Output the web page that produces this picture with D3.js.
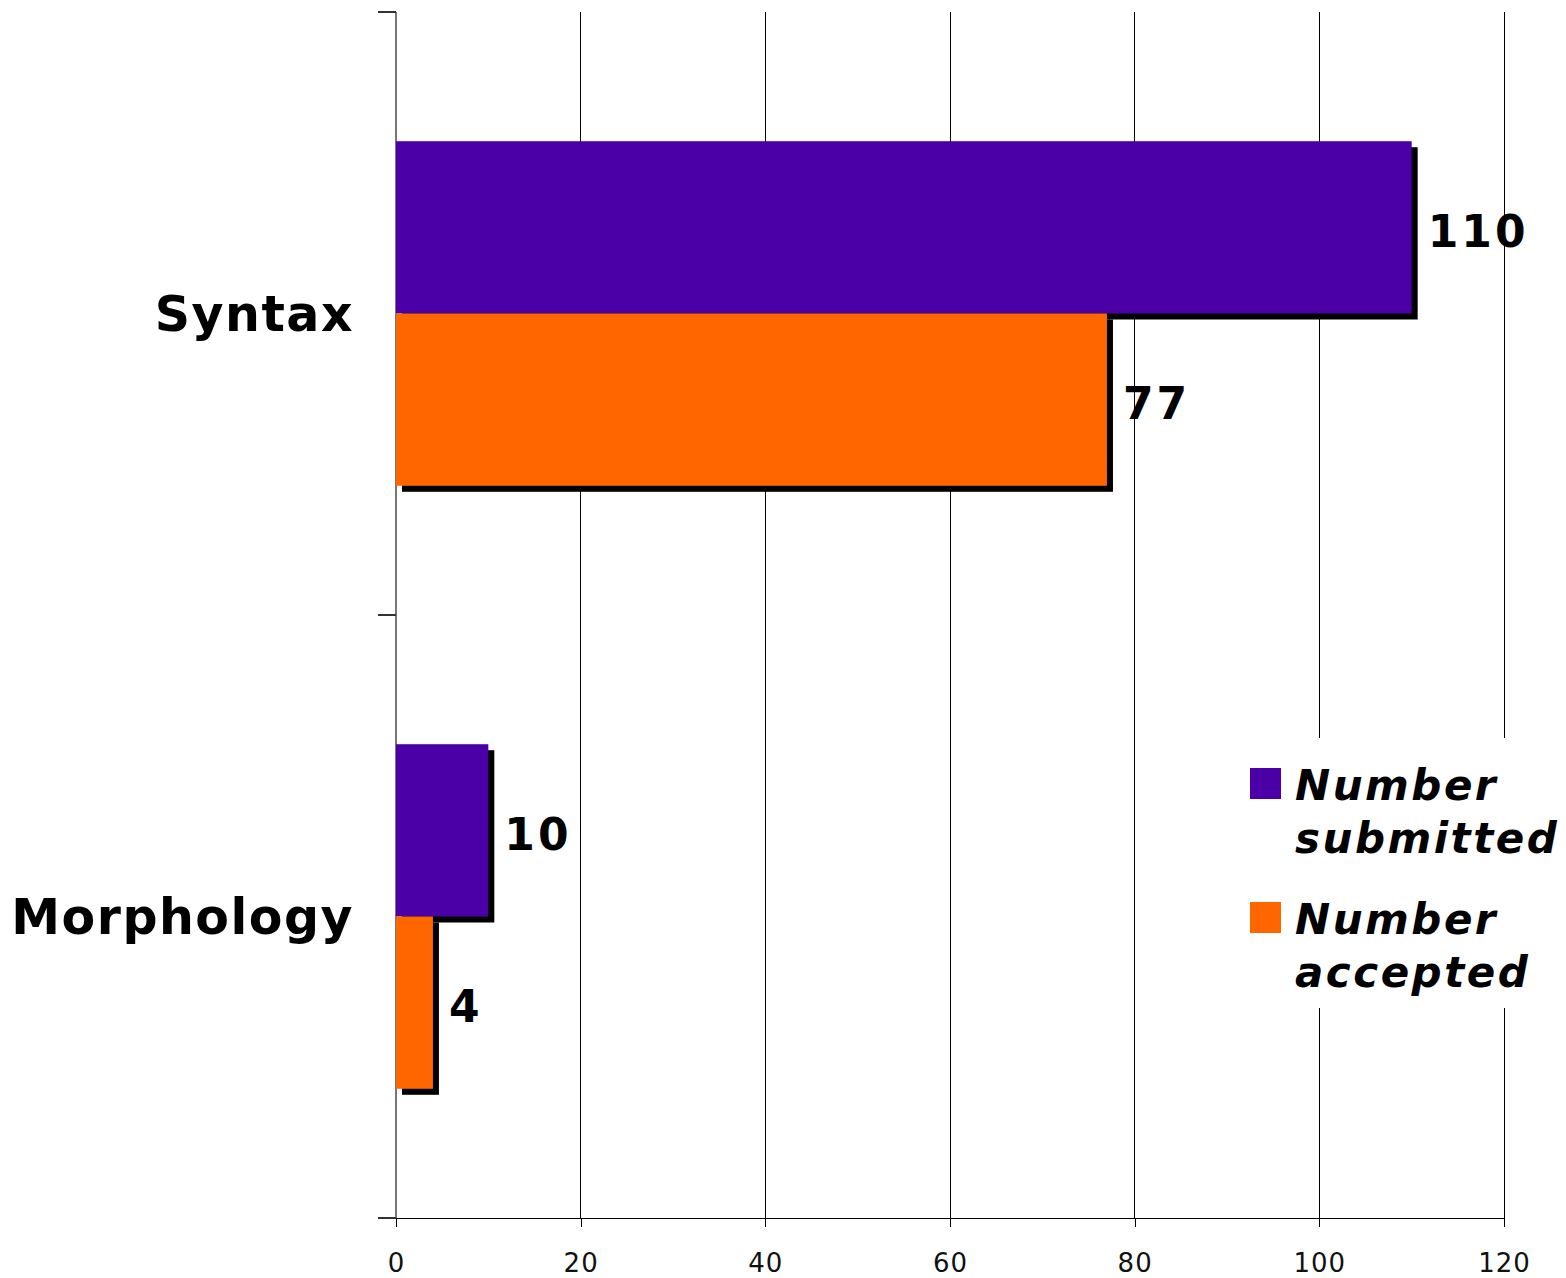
<!DOCTYPE html>
<html>
<head>
<meta charset="utf-8">
<script src="https://cdn.jsdelivr.net/npm/d3@7"></script>
<style>
    html, body { margin: 0; padding: 0; background: #fff; }
    svg { display: block; font-family: 'DejaVu Sans', Verdana, sans-serif; }
</style>
</head>
<body>
<div id="chart"></div>
<script>
'use strict';

// chart data
var categories = ['Syntax', 'Morphology'];
var seriesNames = ['Number submitted', 'Number accepted'];
var submitted = [110, 10];
var accepted = [77, 4];
var xTicks = [0, 20, 40, 60, 80, 100, 120];
var seriesColors = ['#4a00a6', '#ff6600'];

var width = 1566,
    height = 1278,
    plotLeft = 396,
    plotRight = 1504,
    plotTop = 12,
    plotBottom = 1218,
    shadow = 6;

var svg = d3.select('#chart')
    .append('svg')
    .attr('width', width)
    .attr('height', height);

var x = d3.scaleLinear().domain([0, 120]).range([plotLeft, plotRight]);
var y0 = d3.scaleBand().domain(categories).range([plotTop, plotBottom]).padding(0);
var y1 = d3.scaleBand().domain(seriesNames).range([0, y0.bandwidth()])
    .paddingInner(0).paddingOuter(0.75);

// vertical gridlines
svg.append('g')
    .selectAll('line')
    .data(xTicks)
    .enter().append('line')
    .attr('x1', function(d) { return x(d); })
    .attr('x2', function(d) { return x(d); })
    .attr('y1', plotTop)
    .attr('y2', plotBottom)
    .attr('stroke', '#000')
    .attr('stroke-width', 1)
    .attr('shape-rendering', 'crispEdges');

// x axis
var xAxis = svg.append('g')
    .attr('transform', 'translate(0,' + plotBottom + ')')
    .call(d3.axisBottom(x).tickValues(xTicks).tickSize(9).tickPadding(27).tickSizeOuter(0));
xAxis.select('.domain').remove();
xAxis.selectAll('line').attr('stroke', '#000').attr('shape-rendering', 'crispEdges');
xAxis.selectAll('text')
    .attr('fill', '#111')
    .style('font-size', '26px')
    .style('letter-spacing', '1px')
    .style('font-family', "'DejaVu Sans', sans-serif");
svg.append('line')
    .attr('x1', plotLeft - 18).attr('x2', plotRight)
    .attr('y1', plotBottom).attr('y2', plotBottom)
    .attr('stroke', '#000')
    .attr('shape-rendering', 'crispEdges');

// y axis line and category ticks
svg.append('line')
    .attr('x1', plotLeft).attr('x2', plotLeft)
    .attr('y1', plotTop).attr('y2', plotBottom)
    .attr('stroke', '#777')
    .attr('stroke-width', 2)
    .attr('shape-rendering', 'crispEdges');
var bounds = categories.map(function(c) { return y0(c); }).concat([plotBottom]);
svg.append('g')
    .selectAll('line')
    .data(bounds)
    .enter().append('line')
    .attr('x1', plotLeft - 18).attr('x2', plotLeft)
    .attr('y1', function(d) { return d; })
    .attr('y2', function(d) { return d; })
    .attr('stroke', '#333')
    .attr('stroke-width', 2)
    .attr('shape-rendering', 'crispEdges');

// category labels
svg.append('g')
    .selectAll('text')
    .data(categories)
    .enter().append('text')
    .attr('x', 354)
    .attr('y', function(d) { return y0(d) + y0.bandwidth() / 2 + 1; })
    .attr('text-anchor', 'end')
    .attr('dominant-baseline', 'central')
    .style('font-size', '49px')
    .style('letter-spacing', '1.5px')
    .style('font-weight', 'bold')
    .text(function(d) { return d; });

// bars with drop shadow
var rows = [];
categories.forEach(function(c, i) {
    rows.push({cat: c, series: seriesNames[0], value: submitted[i], color: seriesColors[0]});
    rows.push({cat: c, series: seriesNames[1], value: accepted[i], color: seriesColors[1]});
});

var bars = svg.append('g')
    .selectAll('g')
    .data(rows)
    .enter().append('g')
    .attr('transform', function(d) { return 'translate(0,' + (y0(d.cat) + y1(d.series)) + ')'; });

bars.append('rect')
    .attr('x', x(0) + shadow)
    .attr('y', shadow)
    .attr('width', function(d) { return x(d.value) - x(0); })
    .attr('height', y1.bandwidth())
    .attr('fill', '#000');
bars.append('rect')
    .attr('x', x(0))
    .attr('y', 0)
    .attr('width', function(d) { return x(d.value) - x(0); })
    .attr('height', y1.bandwidth())
    .attr('fill', function(d) { return d.color; });

// value labels
svg.append('g')
    .selectAll('text')
    .data(rows)
    .enter().append('text')
    .attr('x', function(d) { return x(d.value) + 16; })
    .attr('y', function(d) { return y0(d.cat) + y1(d.series) + y1.bandwidth() / 2 + 4; })
    .attr('dominant-baseline', 'central')
    .style('font-size', '44px')
    .style('letter-spacing', '3px')
    .style('font-weight', 'bold')
    .text(function(d) { return d.value; });

// legend
var legend = svg.append('g').attr('transform', 'translate(1238,738)');
legend.append('rect')
    .attr('width', 330)
    .attr('height', 270)
    .attr('fill', '#fff');
var item = legend.selectAll('g')
    .data(seriesNames)
    .enter().append('g')
    .attr('transform', function(d, i) { return 'translate(0,' + (i * 134) + ')'; });
item.append('rect')
    .attr('x', 12).attr('y', 30)
    .attr('width', 31).attr('height', 31)
    .attr('fill', function(d, i) { return seriesColors[i]; });
item.append('text')
    .attr('x', 57)
    .attr('y', 62)
    .style('font-size', '42px')
    .style('letter-spacing', '2.5px')
    .style('font-weight', 'bold')
    .style('font-style', 'italic')
    .selectAll('tspan')
    .data(function(d) { return d.split(' '); })
    .enter().append('tspan')
    .attr('x', 57)
    .attr('dy', function(d, i) { return i ? 53 : 0; })
    .text(function(d) { return d; });
</script>
</body>
</html>
